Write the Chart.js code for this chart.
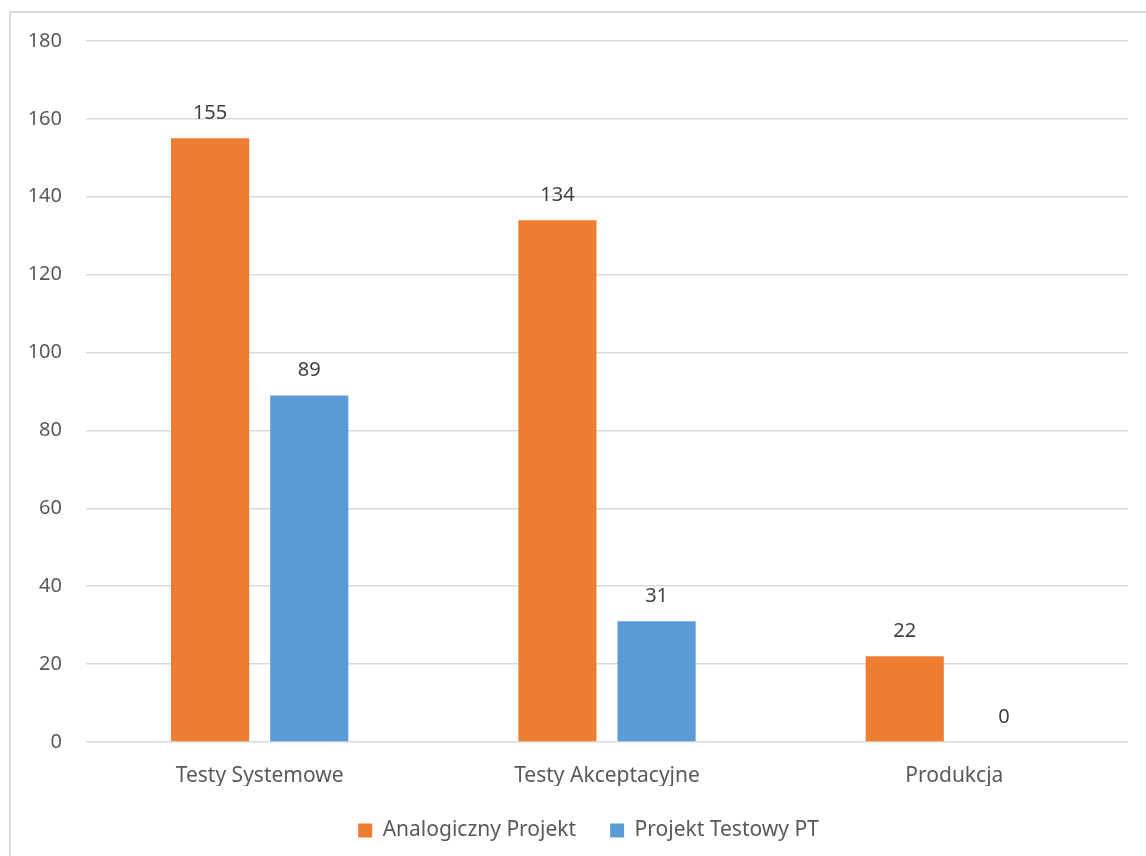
<!DOCTYPE html>
<html>
<head>
<meta charset="utf-8">
<style>
  html, body { margin: 0; padding: 0; background: #ffffff; }
  #wrap { position: relative; width: 1146px; height: 856px; }
</style>
<script src="https://cdn.jsdelivr.net/npm/chart.js@4/dist/chart.umd.min.js"></script>
</head>
<body>
<div id="wrap"><canvas id="chart" width="1146" height="856"></canvas></div>
<script>
// Defect counts per test phase
const categories = ['Testy Systemowe', 'Testy Akceptacyjne', 'Produkcja'];
const seriesNames = ['Analogiczny Projekt', 'Projekt Testowy PT'];
const analogicznyProjekt = [155, 134, 22];
const projektTestowyPT = [89, 31, 0];
const yTicks = [0, 20, 40, 60, 80, 100, 120, 140, 160, 180];

const ORANGE = '#ED7D31';
const BLUE = '#5B9BD5';
const FONT = '"Noto Sans", Lato, sans-serif';
const NUM_SIZE = 20;
const TEXT_SIZE = 21;

// Light frame around the chart area
const framePlugin = {
  id: 'frame',
  beforeDraw(chart) {
    const ctx = chart.ctx;
    ctx.save();
    ctx.strokeStyle = '#d9d9d9';
    ctx.lineWidth = 2;
    ctx.strokeRect(10, 12, chart.width + 20, chart.height + 20);
    ctx.restore();
  }
};

// Centre the legend inside the framed region rather than the whole canvas
const legendShift = {
  id: 'legendShift',
  afterLayout(chart) {
    if (chart.legend) chart.legend.left = 49;
  }
};

// Value labels above each bar
const valueLabels = {
  id: 'valueLabels',
  afterDatasetsDraw(chart) {
    const ctx = chart.ctx;
    ctx.save();
    ctx.font = NUM_SIZE + 'px ' + FONT;
    ctx.fillStyle = '#404040';
    ctx.textAlign = 'center';
    ctx.textBaseline = 'alphabetic';
    chart.data.datasets.forEach((ds, i) => {
      chart.getDatasetMeta(i).data.forEach((bar, j) => {
        ctx.fillText(String(ds.data[j]), bar.x, bar.y - 19);
      });
    });
    ctx.restore();
  }
};

new Chart(document.getElementById('chart'), {
  type: 'bar',
  data: {
    labels: categories,
    datasets: [
      { label: seriesNames[0], data: analogicznyProjekt, backgroundColor: ORANGE },
      { label: seriesNames[1], data: projektTestowyPT, backgroundColor: BLUE }
    ]
  },
  options: {
    responsive: false,
    animation: false,
    devicePixelRatio: 1,
    layout: { padding: { top: 41, right: 18, left: 0, bottom: 5 } },
    datasets: { bar: { categoryPercentage: 0.571, barPercentage: 0.788 } },
    plugins: {
      legend: {
        position: 'bottom',
        labels: {
          boxWidth: 14, boxHeight: 14, padding: 34,
          color: '#595959',
          font: { family: FONT, size: TEXT_SIZE }
        }
      },
      tooltip: { enabled: false }
    },
    scales: {
      x: {
        grid: { display: false, drawTicks: false },
        border: { display: false },
        ticks: { color: '#595959', font: { family: FONT, size: TEXT_SIZE }, padding: 21 },
        afterFit(scale) { scale.height = 44; }
      },
      y: {
        min: 0, max: 180,
        afterBuildTicks(scale) { scale.ticks = yTicks.map(v => ({ value: v })); },
        grid: { color: '#d9d9d9', lineWidth: 1.5, drawTicks: false },
        border: { display: false },
        ticks: { color: '#595959', font: { family: FONT, size: NUM_SIZE }, padding: 24 },
        afterFit(scale) { scale.width = 86; }
      }
    }
  },
  plugins: [framePlugin, legendShift, valueLabels]
});
</script>
</body>
</html>
